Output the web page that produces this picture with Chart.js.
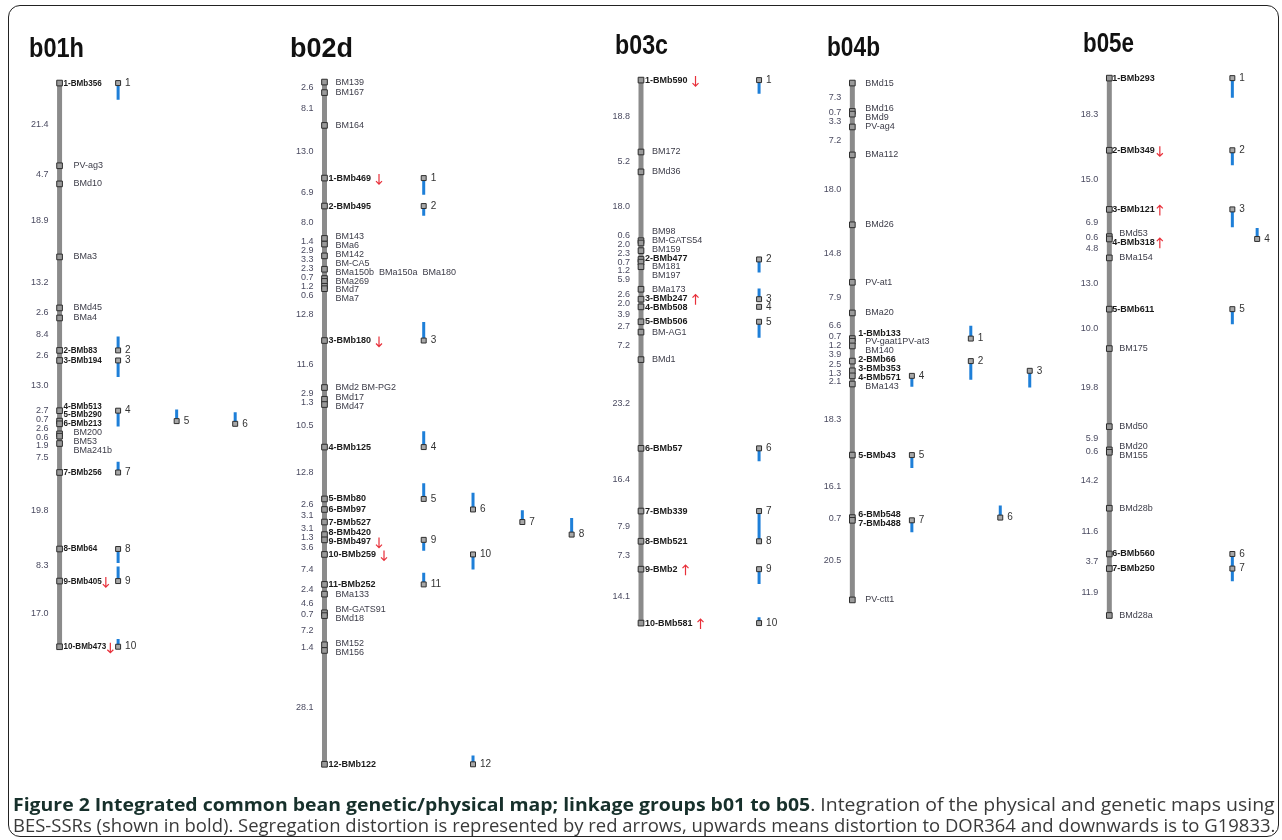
<!DOCTYPE html>
<html>
<head>
<meta charset="utf-8">
<script src="https://cdn.jsdelivr.net/npm/chart.js@4.4.1/dist/chart.umd.min.js"></script>
<style>
  html, body { margin: 0; padding: 0; background: #fff; }
  #wrap { position: relative; width: 1282px; height: 840px; overflow: hidden; }
  #frame { position: absolute; left: 8px; top: 5px; width: 1271px; height: 832px;
           border: 1.5px solid #222; border-radius: 12px; box-sizing: border-box; }
  canvas { position: absolute; left: 0; top: 0; }
  .cap { position: absolute; left: 13px; white-space: nowrap; font-family: "Open Sans", sans-serif;
         font-size: 17.5px; line-height: 20px; color: #3a3a3a; transform-origin: 0 0; }
  .cap b { color: #17302b; font-weight: 700; }
</style>
</head>
<body>
<div id="wrap">
  <div id="frame"></div>
  <canvas id="map" width="1282" height="840"></canvas>
  <div class="cap" id="cap1" style="top:794px"><b>Figure 2 Integrated common bean genetic/physical map; linkage groups b01 to b05</b>. Integration of the physical and genetic maps using</div>
  <div class="cap" id="cap2" style="top:815px">BES-SSRs (shown in bold). Segregation distortion is represented by red arrows, upwards means distortion to DOR364 and downwards is to G19833.</div>
</div>
<script>
// linkage group names
const groupNames = ['b01h', 'b02d', 'b03c', 'b04b', 'b05e'];

// b01h
const markers01 = ['1-BMb356', 'PV-ag3', 'BMd10', 'BMa3', 'BMd45', 'BMa4', '2-BMb83', '3-BMb194', '4-BMb513',
  '5-BMb290', '6-BMb213', 'BM200', 'BM53', 'BMa241b', '7-BMb256', '8-BMb64', '9-BMb405', '10-BMb473'];
const gaps01 = [21.4, 4.7, 18.9, 13.2, 2.6, 8.4, 2.6, 13.0, 2.7, 0.7, 2.6, 0.6, 1.9, 7.5, 19.8, 8.3, 17.0];
const skewUp01 = [];
const skewDown01 = ['9-BMb405', '10-BMb473'];
const physCol01 = [0, 0, 0, 0, 1, 2, 0, 0, 0, 0];
const physLen01 = [4.3, -3.6, 4.3, 4.1, -3.0, -3.0, -2.8, 3.6, -3.8, -2.0];

// b02d
const markers02 = ['BM139', 'BM167', 'BM164', '1-BMb469', '2-BMb495', 'BM143', 'BMa6', 'BM142', 'BM-CA5',
  'BMa150b  BMa150a  BMa180', 'BMa269', 'BMd7', 'BMa7', '3-BMb180', 'BMd2 BM-PG2', 'BMd17', 'BMd47', '4-BMb125',
  '5-BMb80', '6-BMb97', '7-BMb527', '8-BMb420', '9-BMb497', '10-BMb259', '11-BMb252', 'BMa133', 'BM-GATS91',
  'BMd18', 'BM152', 'BM156', '12-BMb122'];
const gaps02 = [2.6, 8.1, 13.0, 6.9, 8.0, 1.4, 2.9, 3.3, 2.3, 0.7, 1.2, 0.6, 12.8, 11.6, 2.9, 1.3, 10.5, 12.8,
  2.6, 3.1, 3.1, 1.3, 3.6, 7.4, 2.4, 4.6, 0.7, 7.2, 1.4, 28.1];
const skewUp02 = [];
const skewDown02 = ['1-BMb469', '3-BMb180', '9-BMb497', '10-BMb259'];
const physCol02 = [0, 0, 0, 0, 0, 1, 2, 3, 0, 1, 0, 1];
const physLen02 = [4.1, 2.4, -4.6, -3.9, -3.9, -4.1, -2.9, -4.1, 2.7, 3.7, -2.9, -2.2];

// b03c
const markers03 = ['1-BMb590', 'BM172', 'BMd36', 'BM98', 'BM-GATS54', 'BM159', '2-BMb477', 'BM181', 'BM197',
  'BMa173', '3-BMb247', '4-BMb508', '5-BMb506', 'BM-AG1', 'BMd1', '6-BMb57', '7-BMb339', '8-BMb521', '9-BMb2',
  '10-BMb581'];
const gaps03 = [18.8, 5.2, 18.0, 0.6, 2.0, 2.3, 0.7, 1.2, 5.9, 2.6, 2.0, 3.9, 2.7, 7.2, 23.2, 16.4, 7.9, 7.3, 14.1];
const skewUp03 = ['3-BMb247', '9-BMb2', '10-BMb581'];
const skewDown03 = ['1-BMb590'];
const physCol03 = [0, 0, 0, 0, 0, 0, 0, 0, 0, 0];
const physLen03 = [3.6, 3.4, -2.8, 0, 4.2, 3.4, 7.9, 0, 3.9, -1.5];

// b04b
const markers04 = ['BMd15', 'BMd16', 'BMd9', 'PV-ag4', 'BMa112', 'BMd26', 'PV-at1', 'BMa20', '1-BMb133',
  'PV-gaat1PV-at3', 'BM140', '2-BMb66', '3-BMb353', '4-BMb571', 'BMa143', '5-BMb43', '6-BMb548', '7-BMb488',
  'PV-ctt1'];
const gaps04 = [7.3, 0.7, 3.3, 7.2, 18.0, 14.8, 7.9, 6.6, 0.7, 1.2, 3.9, 2.5, 1.3, 2.1, 18.3, 16.1, 0.7, 20.5];
const skewUp04 = [];
const skewDown04 = [];
const physCol04 = [2, 2, 4, 0, 0, 3, 0];
const physLen04 = [-3.3, 4.8, 4.3, 2.8, 3.3, -3.1, 3.1];

// b05e
const markers05 = ['1-BMb293', '2-BMb349', '3-BMb121', 'BMd53', '4-BMb318', 'BMa154', '5-BMb611', 'BM175',
  'BMd50', 'BMd20', 'BM155', 'BMd28b', '6-BMb560', '7-BMb250', 'BMd28a'];
const gaps05 = [18.3, 15.0, 6.9, 0.6, 4.8, 13.0, 10.0, 19.8, 5.9, 0.6, 14.2, 11.6, 3.7, 11.9];
const skewUp05 = ['3-BMb121', '4-BMb318'];
const skewDown05 = ['2-BMb349'];
const physCol05 = [0, 0, 0, 1, 0, 0, 0];
const physLen05 = [5.0, 3.8, 4.5, -2.8, 3.8, 3.7, 3.2];

const groups = [
  { name: groupNames[0], markers: markers01, gaps: gaps01, up: skewUp01, down: skewDown01, col: physCol01, len: physLen01 },
  { name: groupNames[1], markers: markers02, gaps: gaps02, up: skewUp02, down: skewDown02, col: physCol02, len: physLen02 },
  { name: groupNames[2], markers: markers03, gaps: gaps03, up: skewUp03, down: skewDown03, col: physCol03, len: physLen03 },
  { name: groupNames[3], markers: markers04, gaps: gaps04, up: skewUp04, down: skewDown04, col: physCol04, len: physLen04 },
  { name: groupNames[4], markers: markers05, gaps: gaps05, up: skewUp05, down: skewDown05, col: physCol05, len: physLen05 },
];

// page layout of each group (pixels)
const layout = [
  { titleX: 29,   titleBase: 57, titleW: 55, barX: 55,   top: 79, scale: 3.91, physX: 114,  physDX: 59,   boldDX: 4, plainDX: 14, arrowGap: 1, boldScale: 0.9 },
  { titleX: 290,  titleBase: 57, titleW: 63, barX: 322,  top: 78, scale: 4.10, physX: 422,  physDX: 49.7, boldDX: 4, plainDX: 11, arrowGap: 5, boldScale: 1 },
  { titleX: 615,  titleBase: 54, titleW: 53, barX: 641,  top: 76, scale: 3.87, physX: 760,  physDX: 30,   boldDX: 4, plainDX: 11, arrowGap: 5, boldScale: 1 },
  { titleX: 827,  titleBase: 56, titleW: 53, barX: 854,  top: 79, scale: 3.93, physX: 914,  physDX: 29.7, boldDX: 6, plainDX: 13, arrowGap: 3, boldScale: 1 },
  { titleX: 1083, titleBase: 52, titleW: 51, barX: 1113, top: 74, scale: 3.99, physX: 1237, physDX: 25,   boldDX: 3, plainDX: 10, arrowGap: 2, boldScale: 1 },
];

const H = 840;
const isBold = n => /^\d+-BMb/.test(n);

// cumulative cM position of each marker
groups.forEach(g => {
  g.pos = [0];
  g.gaps.forEach((d, i) => g.pos.push(g.pos[i] + d));
});

// push overlapping labels apart, keeping each cluster centred on its marks
function spread(ys, gap) {
  const blocks = [];
  ys.forEach(y => {
    blocks.push({ n: 1, sum: y });
    while (blocks.length > 1) {
      const b = blocks[blocks.length - 1], a = blocks[blocks.length - 2];
      const aBot = a.sum / a.n + (a.n - 1) * gap / 2;
      const bTop = b.sum / b.n - (b.n - 1) * gap / 2;
      if (bTop - aBot >= gap) break;
      a.n += b.n; a.sum += b.sum; blocks.pop();
    }
  });
  const out = [];
  blocks.forEach(b => {
    const t = b.sum / b.n - (b.n - 1) * gap / 2;
    for (let k = 0; k < b.n; k++) out.push(t + k * gap);
  });
  return out;
}

const datasets = [];
const scales = { x: { type: 'linear', min: 0, max: 1282, display: false } };

groups.forEach((g, gi) => {
  const L = layout[gi];
  const yid = 'y' + gi;
  scales[yid] = { type: 'linear', display: false, reverse: true, min: -L.top / L.scale, max: (H - L.top) / L.scale };

  // chromosome bar
  datasets.push({
    data: [{ x: L.barX, y: 0 }, { x: L.barX, y: g.pos[g.pos.length - 1] }],
    showLine: true, borderColor: '#8b8b8b', borderWidth: 5, pointRadius: 0, yAxisID: yid, order: 4
  });
  // markers
  datasets.push({
    data: g.pos.map(p => ({ x: L.barX, y: p })),
    pointStyle: 'rect', pointRadius: 4, backgroundColor: '#9a9a9a', borderColor: '#2e2e2e',
    borderWidth: 1, yAxisID: yid, order: 3
  });
  // physical map: BES positions and contig bars
  const bars = [], sq = [];
  g.col.forEach((c, k) => {
    const mi = g.markers.findIndex(n => n.startsWith((k + 1) + '-'));
    const p = g.pos[mi];
    const x = L.physX + c * L.physDX;
    bars.push({ x, y: p }, { x, y: p + g.len[k] }, { x, y: null });
    sq.push({ x, y: p });
  });
  datasets.push({
    data: bars, showLine: true, spanGaps: false, borderColor: '#1e7fd8', borderWidth: 3,
    pointRadius: 0, yAxisID: yid, order: 2
  });
  datasets.push({
    data: sq, pointStyle: 'rect', pointRadius: 3.5, backgroundColor: '#a8a8a8', borderColor: '#2e2e2e',
    borderWidth: 1, yAxisID: yid, order: 1
  });
});

const FONT = '"Liberation Sans", Arial, "DejaVu Sans", sans-serif';

// thin red segregation arrow, dir = -1 up, 1 down
function drawArrow(ctx, x, y, dir) {
  ctx.save();
  ctx.strokeStyle = '#e8303a';
  ctx.lineWidth = 1.2;
  ctx.beginPath();
  ctx.moveTo(x, y - 5 * dir);
  ctx.lineTo(x, y + 5 * dir);
  ctx.moveTo(x - 3, y + 2 * dir);
  ctx.lineTo(x, y + 5 * dir);
  ctx.lineTo(x + 3, y + 2 * dir);
  ctx.stroke();
  ctx.restore();
}

const mapLabels = {
  id: 'mapLabels',
  afterDatasetsDraw(chart) {
    const ctx = chart.ctx;
    const xs = chart.scales.x;
    groups.forEach((g, gi) => {
      const L = layout[gi];
      const ys = chart.scales['y' + gi];
      const bx = xs.getPixelForValue(L.barX);

      // title
      ctx.save();
      ctx.font = 'bold 28px ' + FONT;
      const tw = ctx.measureText(g.name).width;
      ctx.translate(L.titleX, L.titleBase);
      ctx.scale(L.titleW / tw, 1);
      ctx.fillStyle = '#111';
      ctx.textBaseline = 'alphabetic';
      ctx.fillText(g.name, 0, 0);
      ctx.restore();

      ctx.save();
      ctx.textBaseline = 'middle';

      // interval distances
      const mids = g.gaps.map((d, i) => (ys.getPixelForValue(g.pos[i]) + ys.getPixelForValue(g.pos[i + 1])) / 2);
      const dy = spread(mids, 8.8);
      ctx.font = '9px ' + FONT;
      ctx.textAlign = 'right';
      ctx.fillStyle = '#4a4a60';
      g.gaps.forEach((d, i) => ctx.fillText(d.toFixed(1), bx - 11, dy[i]));

      // marker names
      const mp = g.pos.map(p => ys.getPixelForValue(p));
      const ly = spread(mp, 8.8);
      ctx.textAlign = 'left';
      g.markers.forEach((n, i) => {
        const bold = isBold(n);
        ctx.font = (bold ? 'bold ' : '') + '9px ' + FONT;
        ctx.fillStyle = bold ? '#1a1a1a' : '#3c3c48';
        const x0 = bx + (bold ? L.boldDX : L.plainDX);
        const sx = bold ? L.boldScale : 1;
        ctx.save();
        ctx.translate(x0, ly[i]);
        ctx.scale(sx, 1);
        ctx.fillText(n, 0, 0);
        ctx.restore();
        const dir = g.up.includes(n) ? -1 : g.down.includes(n) ? 1 : 0;
        if (dir) {
          const w = ctx.measureText(n).width * sx;
          drawArrow(ctx, x0 + w + L.arrowGap + 3, ly[i] + 1, dir);
        }
      });

      // BES numbers on the physical map
      ctx.font = '10px ' + FONT;
      ctx.fillStyle = '#333';
      g.col.forEach((c, k) => {
        const mi = g.markers.findIndex(n => n.startsWith((k + 1) + '-'));
        const x = xs.getPixelForValue(L.physX + c * L.physDX);
        ctx.fillText(String(k + 1), x + 7, ys.getPixelForValue(g.pos[mi]));
      });
      ctx.restore();
    });
  }
};

new Chart(document.getElementById('map'), {
  type: 'scatter',
  data: { datasets },
  options: {
    responsive: false,
    animation: false,
    devicePixelRatio: 1,
    events: [],
    layout: { padding: 0 },
    scales,
    plugins: { legend: { display: false }, tooltip: { enabled: false } }
  },
  plugins: [mapLabels]
});

// fit caption lines to the frame width
function fitCaption() {
  ['cap1', 'cap2'].forEach(id => {
    const el = document.getElementById(id);
    el.style.transform = 'none';
    el.style.transform = 'scaleX(' + (1262 / el.offsetWidth) + ')';
  });
}
fitCaption();
if (document.fonts) document.fonts.ready.then(fitCaption);
</script>
</body>
</html>
